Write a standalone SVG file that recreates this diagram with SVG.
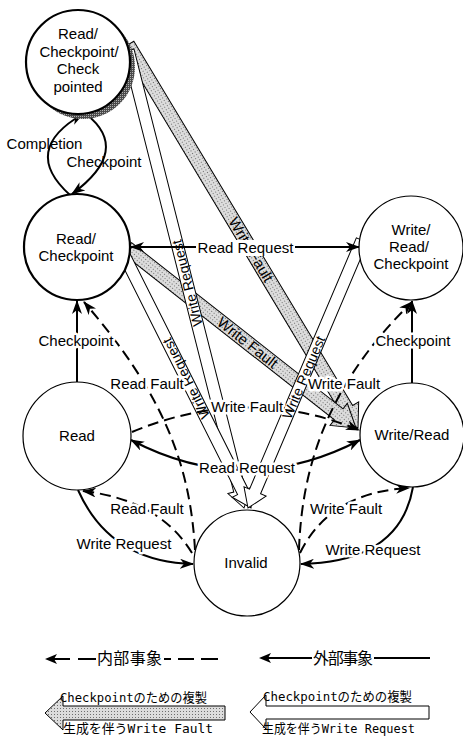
<svg xmlns="http://www.w3.org/2000/svg" width="463" height="736" viewBox="0 0 463 736">
<defs>
<style>
.n{fill:#fff;stroke:#000;stroke-width:1.2}
.nb{fill:#fff;stroke:#000;stroke-width:2.2}
.lbl{font-family:"Liberation Sans",Arial,sans-serif;font-size:15px;text-anchor:middle;fill:#000}
.halo{stroke:#fff;stroke-width:5;paint-order:stroke;stroke-linejoin:round}
.sol{fill:none;stroke:#000;stroke-width:2}
.dsh{fill:none;stroke:#000;stroke-width:2;stroke-dasharray:11 6}
.gb{fill:url(#lt);stroke:#000;stroke-width:1}
.wb{fill:#fff;stroke:#000;stroke-width:1}
.bt{font-family:"Liberation Sans",Arial,sans-serif;font-size:14px;text-anchor:middle;fill:#000}
.jp{font-family:"Noto Sans CJK JP",sans-serif;fill:#000}
.mono{font-family:"DejaVu Sans Mono","Noto Sans CJK JP",monospace;font-size:13px;fill:#000}
</style>
<pattern id="lt" width="3" height="3" patternUnits="userSpaceOnUse"><rect width="3" height="3" fill="#dcdcdc"/><rect width="1" height="1" fill="#6e6e6e"/></pattern>
<pattern id="dk" width="2" height="2" patternUnits="userSpaceOnUse"><rect width="2" height="2" fill="#4a4a4a"/><rect width="1" height="1" fill="#b0b0b0"/></pattern>
<marker id="ah" viewBox="0 0 14 10" refX="13" refY="5" markerWidth="14" markerHeight="10" markerUnits="userSpaceOnUse" orient="auto-start-reverse"><path d="M0,0 L14,5 L0,10 L4,5 Z" fill="#000"/></marker>
</defs>
<rect width="463" height="736" fill="#fff"/>

<g id="connectors">
  <!-- gray wide arrows: Write Fault with copy creation -->
  <g transform="translate(358,428) rotate(59.01)">
    <path class="gb" d="M-447,-7 H-22 V-14 L0,0 L-22,14 V7 H-447 Z"/>
    <text class="lbl" x="-208" y="5">Write Fault</text>
  </g>
  <g transform="translate(356,428) rotate(38.17)">
    <path class="gb" d="M-291,-7 H-22 V-14 L0,0 L-22,14 V7 H-291 Z"/>
    <text class="lbl" x="-138" y="5">Write Fault</text>
  </g>
  <!-- white wide arrows: Write Request with copy creation -->
  <g transform="translate(244,508) rotate(75.79)">
    <path class="wb" d="M-472,-6 H-18 V-12 L0,0 L-18,12 V6 H-472 Z"/>
    <text class="bt" transform="translate(-232,0) rotate(180)" y="5">Write Request</text>
  </g>
  <g transform="translate(251,508) rotate(63.34)">
    <path class="wb" d="M-283,-6 H-18 V-12 L0,0 L-18,12 V6 H-283 Z"/>
    <text class="bt" transform="translate(-145,0) rotate(180)" y="5">Write Request</text>
  </g>
  <g transform="translate(248,508) rotate(113.04)">
    <path class="wb" d="M-291,-6 H-18 V-12 L0,0 L-18,12 V6 H-291 Z"/>
    <text class="bt" transform="translate(-142,0) rotate(180)" y="5">Write Request</text>
  </g>

  <!-- loop between top node and Read/Checkpoint -->
  <path class="sol" d="M70,195 Q20,150 83,114" marker-end="url(#ah)"/>
  <path class="sol" d="M86,114 Q132,150 72,194" marker-end="url(#ah)"/>
  <text class="lbl" x="44.5" y="149">Completion</text>
  <text class="lbl" x="104" y="167">Checkpoint</text>

  <!-- solid -->
  <path class="sol" d="M77,382 L77,301" marker-end="url(#ah)"/>
  <path class="sol" d="M412,383 L412,301" marker-end="url(#ah)"/>
  <path class="sol" d="M131,247 L359,247" marker-start="url(#ah)" marker-end="url(#ah)"/>
  <path class="sol" d="M131,440 Q245,500 360,440" marker-start="url(#ah)" marker-end="url(#ah)"/>
  <path class="sol" d="M78,490 Q110,562 193,564" marker-end="url(#ah)"/>
  <path class="sol" d="M413,487 Q400,562 301,564" marker-end="url(#ah)"/>

  <!-- dashed -->
  <path class="dsh" d="M195,550 C190,460 160,390 84,302" marker-end="url(#ah)"/>
  <path class="dsh" d="M299,550 C302,460 332,380 412,302" marker-end="url(#ah)"/>
  <path class="dsh" d="M192,553 Q160,500 83,491" marker-end="url(#ah)"/>
  <path class="dsh" d="M300,553 Q330,492 409,488" marker-end="url(#ah)"/>
  <path class="dsh" d="M132,432 Q247,384 359,430" marker-end="url(#ah)"/>

  <!-- labels -->
  <rect x="196" y="240" width="99" height="16" fill="#fff"/>
  <text class="lbl" x="245.5" y="253">Read Request</text>
  <text class="lbl halo" x="76" y="346">Checkpoint</text>
  <text class="lbl halo" x="413" y="346">Checkpoint</text>
  <text class="lbl halo" x="147" y="389">Read Fault</text>
  <text class="lbl halo" x="344" y="389">Write Fault</text>
  <text class="lbl halo" x="247" y="412">Write Fault</text>
  <text class="lbl halo" x="247" y="473">Read Request</text>
  <text class="lbl halo" x="147" y="514">Read Fault</text>
  <text class="lbl halo" x="346" y="514">Write Fault</text>
  <text class="lbl halo" x="124" y="549">Write Request</text>
  <text class="lbl halo" x="373" y="555">Write Request</text>
</g>

<g id="node-read-checkpoint-checkpointed">
  <circle cx="83" cy="67" r="52" fill="url(#dk)"/>
  <circle class="nb" cx="78" cy="62" r="52"/>
  <text class="lbl" x="78" y="39">Read/</text>
  <text class="lbl" x="79" y="56.5">Checkpoint/</text>
  <text class="lbl" x="78" y="74">Check</text>
  <text class="lbl" x="78" y="91.5">pointed</text>
</g>
<g id="node-read-checkpoint">
  <circle class="nb" cx="77" cy="247" r="53"/>
  <text class="lbl" x="76" y="244">Read/</text>
  <text class="lbl" x="76" y="261">Checkpoint</text>
</g>
<g id="node-write-read-checkpoint">
  <circle class="n" cx="411" cy="248" r="52"/>
  <text class="lbl" x="411" y="235">Write/</text>
  <text class="lbl" x="409" y="252">Read/</text>
  <text class="lbl" x="411" y="269">Checkpoint</text>
</g>
<g id="node-read">
  <circle class="n" cx="77" cy="436" r="54"/>
  <text class="lbl" x="77" y="441">Read</text>
</g>
<g id="node-write-read">
  <circle class="n" cx="412" cy="435" r="52"/>
  <text class="lbl" x="412" y="440">Write/Read</text>
</g>
<g id="node-invalid">
  <circle class="n" cx="247" cy="563" r="53"/>
  <text class="lbl" x="246" y="568">Invalid</text>
</g>

<g id="legend">
  <path d="M45,659 L57,654 L54,659 L57,664 Z" fill="#000"/>
  <path d="M54,659 H70 M78,659 H96 M164,659 H171 M178,659 H194 M201,659 H218" stroke="#000" stroke-width="2" fill="none"/>
  <text class="jp" x="97" y="664" font-size="16" textLength="65">内部事象</text>
  <path d="M259,658 L271,653 L268,658 L271,663 Z" fill="#000"/>
  <path d="M268,658 H312 M374,658 H430" stroke="#000" stroke-width="2" fill="none"/>
  <text class="jp" x="313" y="664" font-size="16" textLength="60">外部事象</text>

  <path class="gb" d="M45,713 L63,696 V706 H225 V720 H63 V730 Z"/>
  <text class="mono" x="60" y="702" textLength="147" lengthAdjust="spacingAndGlyphs">Checkpointのための複製</text>
  <text class="mono" x="63" y="733" textLength="150" lengthAdjust="spacingAndGlyphs">生成を伴うWrite Fault</text>

  <path class="wb" d="M250,712 L266,695 V706 H429 V719 H266 V729 Z"/>
  <text class="mono" x="263" y="701" textLength="149" lengthAdjust="spacingAndGlyphs">Checkpointのための複製</text>
  <text class="mono" x="262" y="733" textLength="153" lengthAdjust="spacingAndGlyphs">生成を伴うWrite Request</text>
</g>
</svg>
